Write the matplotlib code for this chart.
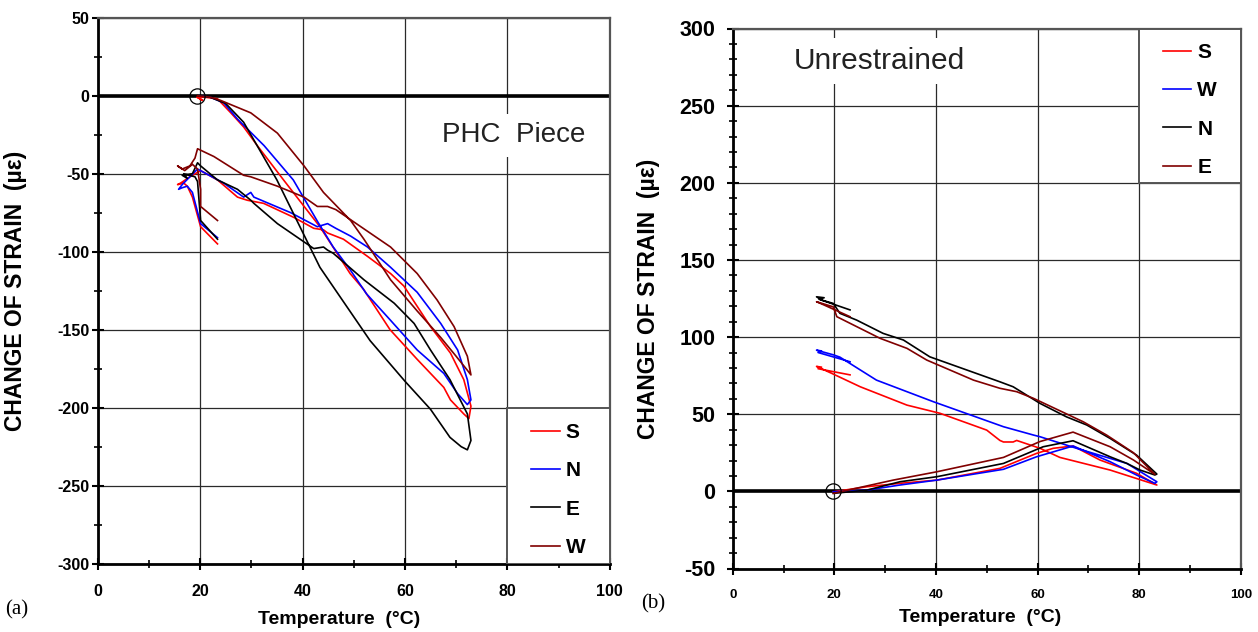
import matplotlib
matplotlib.use("Agg")
import matplotlib.pyplot as plt
from matplotlib.patches import Rectangle
from matplotlib.ticker import MultipleLocator

plt.rcParams['font.family'] = ['Liberation Sans', 'DejaVu Sans']
plt.rcParams['font.weight'] = 'bold'
plt.rcParams['axes.unicode_minus'] = False

# ---- panel (a): PHC piece, strain vs temperature ----
a_S_T = [19.5, 20.5, 19.4, 21.0, 23.4, 26.0, 28.5, 31.4, 36.3, 43.4, 49.3, 51.9, 57.1, 62.4, 67.6, 68.9, 71.5, 72.5,
         72.9, 71.5, 68.9, 65.0, 62.4, 59.8, 57.2, 52.7, 48.0, 44.9, 44.1, 42.2, 38.3, 32.4, 29.2, 27.3, 23.4, 20.1,
         18.0, 16.2, 15.6, 16.8, 17.5, 18.5, 20.1, 23.4]
a_S_V = [-1, -3, -1, -1, -2, -11, -20, -33, -54, -84, -114, -124, -150, -169, -187, -195, -204, -207,
         -199, -182, -165, -148, -135, -122, -114, -103, -92, -88, -86, -85, -78, -69, -67, -65, -54, -48,
         -52, -56, -57, -56, -58, -65, -84, -95]

a_N_T = [19.8, 22.0, 24.6, 27.3, 32.5, 38.2, 43.0, 46.0, 49.4, 52.5, 57.2, 62.4, 67.6, 70.3, 72.2,
         72.9, 72.2, 70.3, 67.0, 62.4, 57.2, 52.7, 49.4, 46.5, 44.9, 42.9, 37.7, 30.5, 29.9, 28.5, 24.6, 19.5,
         18.0, 16.5, 15.8, 16.5, 17.5, 18.5, 20.1, 23.4]
a_N_V = [0, -1, -4.5, -15, -32, -54, -81, -97, -112, -127, -144, -163, -178, -191, -198,
         -195, -182, -163, -146, -126, -110, -97, -90, -85, -82, -84, -75, -65, -62, -65, -56, -47,
         -52, -57, -60, -59, -58, -62, -82, -91]

a_E_T = [19.5, 22.0, 25.0, 28.5, 35.0, 43.4, 53.2, 60.0, 65.0, 68.8, 71.0, 72.2, 72.9, 72.2, 68.8, 65.0, 61.8,
         57.9, 52.0, 46.0, 44.9, 44.1, 42.2, 35.1, 30.5, 29.9, 27.3, 23.4, 20.1, 19.5, 18.5, 16.5, 17.5, 16.8,
         19.0, 19.5, 20.1, 23.4]
a_E_V = [0, -1, -5, -17, -54, -110, -157, -183, -201, -219, -225, -227, -221, -204, -182, -163, -146,
         -133, -118, -101, -99, -97, -98, -82, -69, -67, -60, -54, -45, -43, -50, -51, -53, -50,
         -52, -55, -80, -92]

a_W_T = [19.5, 22.0, 24.0, 29.9, 35.1, 40.3, 44.1, 49.4, 52.0, 57.2, 62.4, 67.0, 70.0, 72.2, 72.9,
         72.2, 69.6, 66.3, 62.4, 57.2, 51.4, 46.5, 44.9, 42.9, 40.3, 35.1, 29.9, 28.5, 22.7, 19.5,
         19.0, 18.0, 16.5, 15.6, 17.0, 18.5, 19.5, 20.1, 20.1, 23.4]
a_W_V = [0, -1, -3, -11, -24, -45, -62, -80, -92, -118, -138, -155, -167, -176, -179,
         -167, -148, -131, -114, -97, -84, -73, -71, -71, -65, -58, -52, -51, -39, -34,
         -40, -45, -47, -45, -48, -44, -47, -60, -71, -80]

# ---- panel (b): unrestrained ----
b_S_T = [19.8, 26.4, 32.9, 40.2, 52.6, 59.8, 63.1, 67.0, 72.3, 79.5, 83.5,
         74.3, 64.4, 60.5, 55.9, 55.2, 53.3, 52.6, 50.0, 40.8, 34.3, 25.1, 19.8,
         16.5, 17.5, 16.8, 23.1]
b_S_V = [-0.3, 3.0, 5.2, 7.3, 14.9, 24.6, 27.9, 29.4, 20.3, 11.7, 4.1,
         13.8, 22.0, 27.9, 33.0, 32.0, 32.0, 33.0, 39.7, 50.6, 55.9, 67.8, 76.0,
         81.0, 80.5, 79.5, 75.5]

b_W_T = [19.8, 26.4, 32.9, 40.2, 53.3, 59.8, 67.0, 74.3, 79.5, 83.1,
         83.5, 77.6, 67.7, 60.5, 59.2, 53.3, 39.5, 28.3, 21.1, 19.8,
         16.5, 17.5, 16.8, 23.1]
b_W_V = [-0.3, 0.8, 4.1, 7.3, 14.3, 22.4, 29.4, 19.2, 10.6, 5.2,
         6.2, 18.1, 27.9, 35.4, 36.5, 41.9, 58.1, 72.1, 87.0, 88.5,
         91.5, 91.0, 90.0, 84.0]

b_N_T = [19.8, 26.4, 32.9, 40.2, 53.3, 61.1, 67.0, 74.3, 77.6, 80.2, 83.1, 83.5,
         79.5, 74.3, 69.7, 65.7, 60.5, 55.2, 52.6, 38.8, 33.6, 29.6, 24.4, 21.1, 19.8,
         17.5, 16.5, 18.0, 17.0, 23.1]
b_N_V = [-1.3, 0.8, 6.2, 9.5, 18.1, 28.9, 32.8, 22.4, 18.1, 13.8, 10.6, 11.2,
         23.5, 34.3, 43.0, 48.3, 57.0, 67.8, 71.0, 87.2, 98.1, 102.4, 111.0, 115.4, 121.8,
         124.0, 126.1, 125.5, 124.5, 117.6]

b_E_T = [19.8, 31.6, 40.2, 53.3, 60.5, 67.0, 74.3, 78.9, 83.1,
         78.9, 73.6, 69.0, 59.2, 55.9, 52.6, 47.4, 38.2, 34.3, 29.0, 20.5, 19.8,
         16.5, 17.5, 23.1]
b_E_V = [-1.3, 7.3, 12.7, 22.0, 32.3, 38.4, 28.9, 20.3, 11.0,
         25.0, 36.5, 45.1, 60.3, 64.6, 66.8, 72.1, 85.1, 92.7, 99.2, 113.2, 119.6,
         122.9, 121.5, 113.2]

RED, BLUE, BLACK, DRED = '#ff0000', '#0000ff', '#000000', '#800000'


def style(ax, ymin, ymax, yminor, xfs, yfs, ypad):
    ax.set_xlim(0, 100)
    ax.set_ylim(ymin, ymax)
    ax.xaxis.set_major_locator(MultipleLocator(20))
    ax.xaxis.set_minor_locator(MultipleLocator(10))
    ax.yaxis.set_major_locator(MultipleLocator(50))
    ax.yaxis.set_minor_locator(MultipleLocator(yminor))
    ax.grid(True, which='major', color='#2a2a2a', lw=0.9)
    ax.set_axisbelow(True)
    for s in ['left', 'bottom']:
        ax.spines[s].set_linewidth(2.0)
        ax.spines[s].set_color('black')
    for s in ['top', 'right']:
        ax.spines[s].set_linewidth(1.6)
        ax.spines[s].set_color('#555555')
    ax.tick_params(which='major', direction='inout', length=9, width=1.5)
    ax.tick_params(which='minor', direction='inout', length=6, width=1.2)
    ax.tick_params(axis='x', which='major', pad=10, labelsize=xfs)
    ax.tick_params(axis='y', which='major', pad=ypad, labelsize=yfs)
    ax.axhline(0, color='black', lw=2.6, zorder=2)


def legend_box(ax, handles, labels, y0):
    ax.add_patch(Rectangle((0.8, y0), 0.2, 100 / 350, transform=ax.transAxes,
                           facecolor='white', edgecolor='#555555', lw=1.4, zorder=4))
    ax.legend(handles, labels, loc='center', bbox_to_anchor=(0.8, y0 - 0.008, 0.2, 100 / 350),
              frameon=False, prop={'weight': 'bold', 'size': 15}, handlelength=1.35,
              handletextpad=0.3, labelspacing=0.93)


fig = plt.figure(figsize=(12.58, 6.32), dpi=100)
axL = fig.add_axes([97.7 / 1258, 68.3 / 632, 512 / 1258, 546 / 632])
axR = fig.add_axes([732.7 / 1258, 63.5 / 632, 508 / 1258, 540 / 632])

# panel (a)
style(axL, -300, 50, 25, 11.5, 11.5, 1.5)
lS, = axL.plot(a_S_T, a_S_V, color=RED, lw=1.2, zorder=3)
lN, = axL.plot(a_N_T, a_N_V, color=BLUE, lw=1.2, zorder=3)
lE, = axL.plot(a_E_T, a_E_V, color=BLACK, lw=1.2, zorder=3)
lW, = axL.plot(a_W_T, a_W_V, color=DRED, lw=1.2, zorder=3)
axL.plot([19.4], [0], marker='o', ms=11, mfc='none', mec='black', mew=0.9, zorder=5)
legend_box(axL, [lS, lN, lE, lW], ['S', 'N', 'E', 'W'], 0.0)
axL.text(81.3, -25.5, 'PHC  Piece', fontsize=20, fontweight='normal', ha='center', va='center',
         color='#222222', bbox=dict(boxstyle='square,pad=0.3', fc='white', ec='none'), zorder=4)
axL.set_xlabel('Temperature  (°C)', fontsize=14, fontweight='bold')
axL.set_ylabel('CHANGE OF STRAIN  (µε)', fontsize=16.5, fontweight='bold')
axL.xaxis.set_label_coords(0.471, -0.086)
axL.yaxis.set_label_coords(-0.138, 0.5)

# panel (b)
style(axR, -50, 300, 10, 9.5, 15.5, 8)
rS, = axR.plot(b_S_T, b_S_V, color=RED, lw=1.2, zorder=3)
rW, = axR.plot(b_W_T, b_W_V, color=BLUE, lw=1.2, zorder=3)
rN, = axR.plot(b_N_T, b_N_V, color=BLACK, lw=1.2, zorder=3)
rE, = axR.plot(b_E_T, b_E_V, color=DRED, lw=1.2, zorder=3)
axR.plot([19.8], [0], marker='o', ms=11, mfc='none', mec='black', mew=0.9, zorder=5)
legend_box(axR, [rS, rW, rN, rE], ['S', 'W', 'N', 'E'], 250 / 350)
axR.text(28.8, 279, 'Unrestrained', fontsize=21.5, fontweight='normal', ha='center', va='center',
         color='#222222', bbox=dict(boxstyle='square,pad=0.3', fc='white', ec='none'), zorder=4)
axR.set_xlabel('Temperature  (°C)', fontsize=14, fontweight='bold')
axR.set_ylabel('CHANGE OF STRAIN  (µε)', fontsize=16.5, fontweight='bold')
axR.xaxis.set_label_coords(0.487, -0.075)
axR.yaxis.set_label_coords(-0.143, 0.5)

fig.text(5 / 1258, 1 - 610 / 632, '(a)', fontsize=15, fontweight='normal', family='Liberation Serif', va='center')
fig.text(641 / 1258, 1 - 604 / 632, '(b)', fontsize=15, fontweight='normal', family='Liberation Serif', va='center')

fig.savefig('out.png', dpi=100)
